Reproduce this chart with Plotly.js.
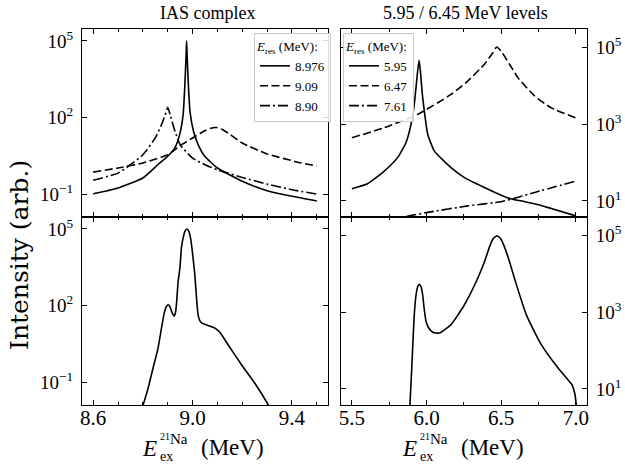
<!DOCTYPE html>
<html>
<head>
<meta charset="utf-8">
<script src="https://cdn.plot.ly/plotly-3.0.1.min.js"></script>
<style>html,body{margin:0;padding:0;background:#fff}#chart{width:625px;height:464px}</style>
</head>
<body>
<div id="chart"></div>
<script>
// ---- Top-left: IAS complex, individual resonances ----
const tlSolidE = [8.600,8.700,8.800,8.860,8.900,8.928,8.948,8.962,8.969,8.974,8.976,8.978,8.983,8.990,9.004,9.022,9.049,9.100,9.200,9.300,9.400,9.500];
const tlSolidI = [0.102,0.174,0.427,1.41,3.02,6.31,21.4,129,1950,28800,100000,28800,1950,158,28.2,8.91,3.02,1.05,0.316,0.135,0.0813,0.0537];
const tlDashE = [8.600,8.700,8.800,8.900,8.955,9.000,9.049,9.070,9.096,9.120,9.143,9.200,9.300,9.400,9.437,9.500];
const tlDashI = [0.724,1.05,1.66,3.47,8.51,15.8,30.2,37.2,40.7,33.9,24.5,10.0,3.72,2.04,1.66,1.26];
const tlDotE = [8.600,8.700,8.750,8.800,8.850,8.875,8.890,8.900,8.910,8.925,8.950,9.000,9.050,9.100,9.200,9.300,9.400,9.500];
const tlDotI = [0.347,0.661,1.41,3.47,15.8,52.5,129,251,126,38.9,8.51,2.57,1.41,0.891,0.447,0.245,0.148,0.100];
const tlNames = ["8.976","9.09","8.90"];

// ---- Top-right: 5.95 / 6.45 MeV levels ----
const trSolidE = [5.500,5.605,5.717,5.806,5.862,5.896,5.918,5.936,5.950,5.959,5.972,5.985,6.008,6.053,6.164,6.254,6.388,6.500,6.570,6.660,6.750,6.836,7.000];
const trSolidI = [20.9,28.2,60.3,135,331,1000,3310,16600,46800,24500,6030,2240,550,200,74.1,40.7,22.4,14.1,11.2,9.55,7.94,6.31,4.07];
const trDashE = [5.500,5.717,5.940,6.164,6.276,6.388,6.444,6.470,6.500,6.556,6.612,6.724,6.836,7.000];
const trDashI = [447,813,1820,6030,13500,37200,74100,105000,81300,37200,16600,5500,2690,1480];
const trDotE = [5.750,5.850,6.008,6.276,6.500,6.570,6.724,7.000];
const trDotI = [2.82,3.80,5.01,7.41,9.55,11.2,16.6,33.1];
const trNames = ["5.95","6.47","7.61"];

// ---- Bottom-left: summed spectrum ----
const blE = [8.780,8.801,8.821,8.841,8.861,8.875,8.886,8.895,8.902,8.908,8.918,8.926,8.931,8.935,8.942,8.949,8.955,8.962,8.969,8.977,8.985,8.993,9.002,9.009,9.016,9.022,9.029,9.038,9.062,9.089,9.109,9.143,9.197,9.250,9.304,9.320];
const blI = [0.00316,0.0129,0.0575,0.355,2.14,13.2,51.3,93.3,107,93.3,51.3,38.0,51.3,107,891,2950,17800,44700,81300,100000,81300,38000,7240,1620,195,43.7,25.7,20.4,16.6,13.2,9.12,2.88,0.479,0.0912,0.0129,0.0063];

// ---- Bottom-right: summed spectrum ----
const brE = [5.885,5.889,5.900,5.907,5.918,5.930,5.941,5.952,5.963,5.974,5.985,5.997,6.015,6.041,6.086,6.164,6.254,6.343,6.388,6.422,6.444,6.471,6.496,6.522,6.556,6.589,6.668,6.768,6.880,6.947,6.974,6.992,7.003,7.010];
const brI = [1.58,3.89,28.8,117,871,2880,4680,5370,4680,2880,1170,575,389,302,288,479,1580,7760,20900,51300,81300,100000,85100,51300,20900,7760,871,145,35.5,17.4,12.9,7.94,3.89,1.58];

const leftTickVals = [0.1, 100, 1e5];
const leftTickText = ["10<sup>−1</sup>","10<sup>2</sup>","10<sup>5</sup>"];
const rightTickVals = [10, 1000, 1e5];
const rightTickText = ["10<sup>1</sup>","10<sup>3</sup>","10<sup>5</sup>"];

const FONT = "Liberation Serif";
const LW = 1.6;
const DASH = "8px,3.5px";
const DASHDOT = "10px,3px,2px,3px";

function line(x, y, dash, xa, ya, name, legend) {
  return {x: x, y: y, type: "scatter", mode: "lines", xaxis: xa, yaxis: ya,
    name: name, legend: legend || "legend", showlegend: !!name,
    line: {color: "black", width: LW, dash: dash, shape: "spline", smoothing: 0.5}};
}

const data = [
  line(tlSolidE, tlSolidI, "solid", "x", "y", tlNames[0], "legend"),
  line(tlDashE, tlDashI, DASH, "x", "y", tlNames[1], "legend"),
  line(tlDotE, tlDotI, DASHDOT, "x", "y", tlNames[2], "legend"),
  line(trSolidE, trSolidI, "solid", "x3", "y3", trNames[0], "legend2"),
  line(trDashE, trDashI, DASH, "x3", "y3", trNames[1], "legend2"),
  line(trDotE, trDotI, DASHDOT, "x3", "y3", trNames[2], "legend2"),
  line(blE, blI, "solid", "x2", "y2", null),
  line(brE, brI, "solid", "x4", "y4", null)
];

const W = 625, H = 464;
const px = v => v / W, py = v => 1 - v / H;
const xL = [px(82), px(328)], xR = [px(340.7), px(587)];
const yT = [py(217), py(29)], yB = [py(405), py(217)];

function xax(domain, anchor, range, tick0, dtick, mdtick, labels) {
  return {domain: domain, anchor: anchor, range: range, tick0: tick0, dtick: dtick,
    tickformat: ".1f",
    showticklabels: labels, ticks: "inside", ticklen: 5, tickwidth: 1, tickcolor: "black",
    mirror: "allticks", showline: true, linecolor: "black", linewidth: 1,
    showgrid: false, zeroline: false,
    minor: {dtick: mdtick, tick0: tick0, ticks: "inside", ticklen: 3, tickcolor: "black", showgrid: false},
    tickfont: {family: FONT, size: 21, color: "black"}, ticklabelstandoff: -6};
}
function yax(domain, anchor, range, vals, text, side) {
  return {domain: domain, anchor: anchor, type: "log", range: range, side: side,
    tickmode: "array", tickvals: vals, ticktext: text,
    ticks: "inside", ticklen: 5, tickwidth: 1, tickcolor: "black",
    mirror: "allticks", showline: true, linecolor: "black", linewidth: 1,
    showgrid: false, zeroline: false,
    tickfont: {family: FONT, size: 19, color: "black"}, ticklabelstandoff: 4};
}

const legendCommon = {
  bgcolor: "rgba(255,255,255,0.85)", bordercolor: "#c8c8c8", borderwidth: 1,
  font: {family: FONT, size: 13, color: "black"}, yanchor: "top", xanchor: "left",
  itemwidth: 30, tracegroupgap: 0,
  title: {text: "<i>E</i><sub>res</sub> (MeV):", font: {family: FONT, size: 13, color: "black"}}
};

const ann = [];
function txt(text, x, y, size, extra) {
  ann.push(Object.assign({text: text, xref: "paper", yref: "paper", x: px(x), y: py(y),
    showarrow: false, xanchor: "center", yanchor: "middle", borderpad: 0,
    font: {family: FONT, size: size, color: "black"}}, extra || {}));
}
txt("IAS complex", 207, 13, 18);
txt("5.95 / 6.45 MeV levels", 465, 13, 18);
txt("Intensity (arb.)", 20, 255, 25, {textangle: -90, font: {family: "DejaVu Serif", size: 25, color: "black"}});
[0, 259.5].forEach(function (d) {
  txt("<i>E</i>", 158 + d, 448, 23, {xanchor: "right"});
  txt("21", 159 + d, 443, 10, {xanchor: "left", yanchor: "bottom"});
  txt("Na", 169 + d, 448, 15, {xanchor: "left", yanchor: "bottom"});
  txt("ex", 159 + d, 456, 14, {xanchor: "left"});
  txt("(MeV)", 232.5 + d, 447, 23);
});

const layout = {
  width: W, height: H, margin: {l: 0, r: 0, t: 0, b: 0},
  paper_bgcolor: "white", plot_bgcolor: "white",
  font: {family: FONT, color: "black"},
  xaxis: xax(xL, "y", [8.555, 9.545], 8.6, 0.4, 0.1, false),
  yaxis: yax(yT, "x", [-1.9, 5.47], leftTickVals, leftTickText, "left"),
  xaxis2: xax(xL, "y2", [8.555, 9.545], 8.6, 0.4, 0.1, true),
  yaxis2: yax(yB, "x2", [-1.9, 5.47], leftTickVals, leftTickText, "left"),
  xaxis3: xax(xR, "y3", [5.425, 7.075], 5.5, 0.5, 0.25, false),
  yaxis3: yax(yT, "x3", [0.58, 5.49], rightTickVals, rightTickText, "right"),
  xaxis4: xax(xR, "y4", [5.425, 7.075], 5.5, 0.5, 0.25, true),
  yaxis4: yax(yB, "x4", [0.58, 5.49], rightTickVals, rightTickText, "right"),
  legend: Object.assign({x: px(254), y: py(33)}, legendCommon),
  legend2: Object.assign({x: px(343), y: py(33)}, legendCommon),
  annotations: ann,
  showlegend: true
};

Plotly.newPlot("chart", data, layout, {staticPlot: true, displayModeBar: false});
</script>
</body>
</html>
